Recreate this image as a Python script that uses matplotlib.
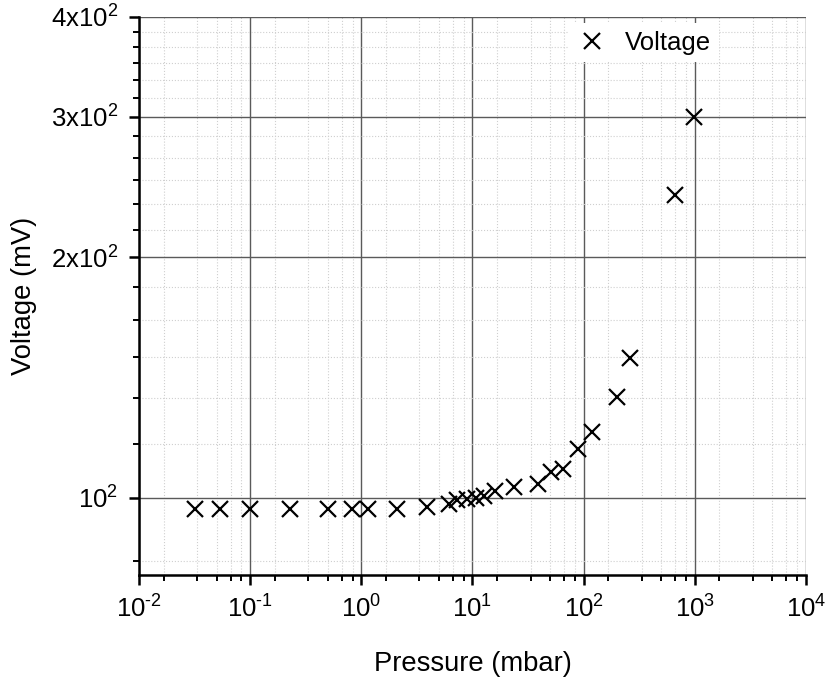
import numpy as np
import matplotlib
matplotlib.use("Agg")
import matplotlib.pyplot as plt
from matplotlib.ticker import FixedLocator, FixedFormatter, NullFormatter

plt.rcParams['font.family'] = ['Liberation Sans', 'DejaVu Sans']
plt.rcParams['mathtext.fontset'] = 'custom'
plt.rcParams['mathtext.rm'] = 'Liberation Sans'
plt.rcParams['mathtext.it'] = 'Liberation Sans'

# data
pressure = [0.0317, 0.0532, 0.099, 0.228, 0.504, 0.828, 1.15, 2.10, 3.92,
            6.2, 7.3, 8.9, 10.8, 12.6, 16.1, 23.6, 38.7, 50.4, 65.0,
            89.2, 118, 200, 259, 670, 980]
voltage = [96.8, 96.8, 96.8, 96.8, 96.8, 96.8, 96.8, 96.8, 97.4,
           98.2, 99.2, 99.6, 100.0, 100.6, 101.8, 103.0, 104.0, 107.8, 108.6,
           114.9, 120.8, 133.6, 149.6, 239.6, 300]

x_major = [1e-2, 1e-1, 1e0, 1e1, 1e2, 1e3, 1e4]
x_labels = [r'$10^{\text{-}2}$', r'$10^{\text{-}1}$', r'$10^{0}$', r'$10^{1}$',
            r'$10^{2}$', r'$10^{3}$', r'$10^{4}$']
y_major = [100, 200, 300, 400]
y_labels = [r'$10^{2}$', r'$2\mathrm{x}10^{2}$', r'$3\mathrm{x}10^{2}$', r'$4\mathrm{x}10^{2}$']

# minor ticks: 5 evenly spaced values between majors (Origin style)
x_minor = [d * 10 * k / 6 for d in x_major[:-1] for k in range(1, 6)]
y_minor = [100 * 5 / 6] + [lo + (hi - lo) * k / 6
                           for lo, hi in zip(y_major[:-1], y_major[1:]) for k in range(1, 6)]

fig = plt.figure(figsize=(8.30, 6.77), dpi=100)
ax = fig.add_axes([0.1675, 0.1507, 0.8035, 0.8243])

ax.set_xscale('log')
ax.set_yscale('log')
ax.set_xlim(1e-2, 1e4)
ax.set_ylim(80, 400)

ax.xaxis.set_major_locator(FixedLocator(x_major))
ax.xaxis.set_major_formatter(FixedFormatter(x_labels))
ax.xaxis.set_minor_locator(FixedLocator(x_minor))
ax.xaxis.set_minor_formatter(NullFormatter())
ax.yaxis.set_major_locator(FixedLocator(y_major))
ax.yaxis.set_major_formatter(FixedFormatter(y_labels))
ax.yaxis.set_minor_locator(FixedLocator(y_minor))
ax.yaxis.set_minor_formatter(NullFormatter())

ax.grid(which='major', color='#5a5a5a', linewidth=1.0, linestyle='-')
ax.grid(which='minor', color='#cfcfcf', linewidth=0.8, linestyle=':')
ax.set_axisbelow(True)

for s in ['top', 'right']:
    ax.spines[s].set_visible(False)
for s in ['left', 'bottom']:
    ax.spines[s].set_linewidth(1.8)

ax.tick_params(which='major', direction='out', length=7, width=1.8, labelsize=18.5, pad=8)
ax.tick_params(which='minor', direction='out', length=4, width=1.4)

ax.plot(pressure, voltage, linestyle='none', marker='x', color='black',
        markersize=11, markeredgewidth=1.6, label='Voltage', clip_on=False, zorder=3)

leg = ax.legend(loc='upper left', bbox_to_anchor=(0.625, 1.012), frameon=True,
                fontsize=18.5, handletextpad=0.7, borderpad=0.3, handlelength=1.2)
leg.get_frame().set_edgecolor('none')
leg.get_frame().set_facecolor('white')
leg.get_frame().set_alpha(1)

ax.set_xlabel('Pressure (mbar)', fontsize=19.7, labelpad=20)
ax.set_ylabel('Voltage (mV)', fontsize=19.7, labelpad=10)

fig.savefig('out.png', dpi=100)
